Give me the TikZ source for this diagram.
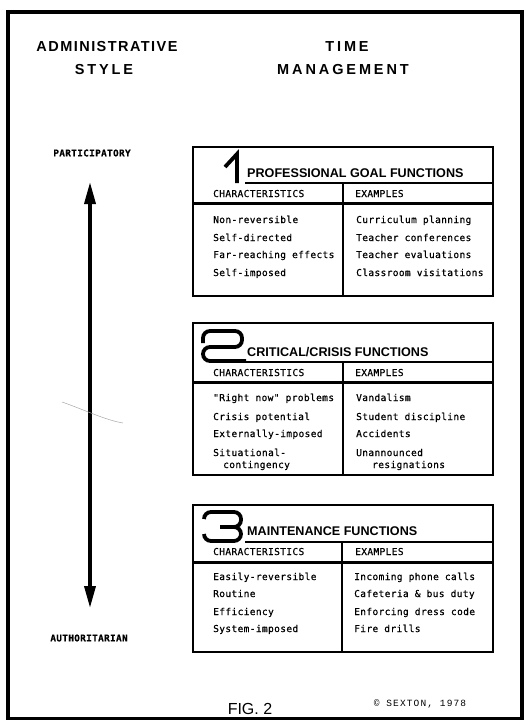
\documentclass[tikz,border=0pt]{standalone}
\usepackage{fontspec}
\setmainfont{Liberation Sans}
\newfontfamily\tw[LetterSpace=4,FakeBold=0.6]{DejaVu Sans Mono}
\newfontfamily\hdn[LetterSpace=10]{Liberation Sans}
\newfontfamily\hdw[LetterSpace=20]{Liberation Sans}
\newfontfamily\cpf[LetterSpace=12]{Liberation Mono}
\usetikzlibrary{arrows.meta}
\tikzset{
  body/.style={anchor=base west, inner sep=0pt, font=\tw\fontsize{9.5}{11}\selectfont},
  headrow/.style={anchor=base west, inner sep=0pt, font=\tw\fontsize{9.5}{11}\selectfont},
  ttl/.style={anchor=base west, inner sep=0pt, font=\bfseries\fontsize{12.6}{14}\selectfont},
  toph/.style={inner sep=0pt, font=\bfseries\fontsize{14.5}{16}\selectfont},
  pole/.style={inner sep=0pt, font=\tw\bfseries\fontsize{9.3}{10}\selectfont},
  boxline/.style={line width=2.6pt},
  midline/.style={line width=1.8pt},
  thickline/.style={line width=3pt},
  num/.style={line width=3.8pt, rounded corners=7pt, line cap=butt},
}
\begin{document}
\begin{tikzpicture}[x=1pt,y=-1pt]
\useasboundingbox (0,0) rectangle (525,720);
% outer frame
\draw[line width=3.2pt] (8,12) rectangle (522,719);

% column headings
\node[toph, font=\hdn\bfseries\fontsize{14.5}{16}\selectfont] (adm) at (107,47) {ADMINISTRATIVE};
\node[toph, font=\hdw\bfseries\fontsize{14.5}{16}\selectfont] (sty) at (104,70) {STYLE};
\node[toph, font=\hdw\bfseries\fontsize{14.5}{16}\selectfont] (tim) at (347,47) {TIME};
\node[toph, font=\hdw\bfseries\fontsize{14.5}{16}\selectfont] (man) at (343,70) {MANAGEMENT};

% scale
\node[pole] (part) at (92,153) {PARTICIPATORY};
\node[pole] (auth) at (89,638) {AUTHORITARIAN};
\coordinate (atop) at (90,182);
\coordinate (abot) at (90,608);
\draw[line width=3.4pt, {Triangle[length=22pt,width=11pt]}-{Triangle[length=22pt,width=11pt]}] (atop) -- (abot);
\draw[black!35, line width=0.5pt] (62,402) .. controls (85,410) and (105,420) .. (123,423);

% ---------- box 1 ----------
\draw[boxline] (193,147) rectangle (493,296);
\draw[midline] (245,183) -- (493,183);
\draw[thickline] (193,203) -- (493,203);
\draw[midline] (343,183) -- (343,296);
\draw[num, rounded corners=0pt, line join=miter] (225,167) -- (237,154) -- (237,183);
\node[ttl] (t1) at (247,177) {PROFESSIONAL GOAL FUNCTIONS};
\node[headrow] (c1) at (213,197) {CHARACTERISTICS};
\node[headrow] (e1) at (355,197) {EXAMPLES};
\node[body] (c1a) at (213,223) {Non-reversible};
\node[body] (c1b) at (213,241) {Self-directed};
\node[body] (c1c) at (213,258) {Far-reaching effects};
\node[body] (c1d) at (213,276) {Self-imposed};
\node[body] (e1a) at (356,223) {Curriculum planning};
\node[body] (e1b) at (356,241) {Teacher conferences};
\node[body] (e1c) at (356,258) {Teacher evaluations};
\node[body] (e1d) at (356,276) {Classroom visitations};

% ---------- box 2 ----------
\draw[boxline] (193,323) rectangle (493,475);
\draw[midline] (245,362) -- (493,362);
\draw[thickline] (193,382) -- (493,382);
\draw[midline] (343,362) -- (343,475);
\draw[num] (203,343) |- (242,331) |- (203,347) |- (246,361);
\node[ttl] (t2) at (247,356) {CRITICAL/CRISIS FUNCTIONS};
\node[headrow] (c2) at (213,376) {CHARACTERISTICS};
\node[headrow] (e2) at (355,376) {EXAMPLES};
\node[body] (c2a) at (213,401) {"Right now" problems};
\node[body] (c2b) at (213,420) {Crisis potential};
\node[body] (c2c) at (213,437) {Externally-imposed};
\node[body] (c2d) at (213,456) {Situational-};
\node[body] (c2e) at (223,468) {contingency};
\node[body] (e2a) at (356,401) {Vandalism};
\node[body] (e2b) at (356,420) {Student discipline};
\node[body] (e2c) at (356,437) {Accidents};
\node[body] (e2d) at (356,456) {Unannounced};
\node[body] (e2e) at (372,468) {resignations};

% ---------- box 3 ----------
\draw[boxline] (193,505) rectangle (493,652);
\draw[midline] (245,542) -- (493,542);
\draw[thickline] (193,562) -- (493,562);
\draw[midline] (342,542) -- (342,652);
\draw[num] (204,519) |- (241,512) |- (220,527);
\draw[num] (220,527) -| (241,541) -| (204,534);
\node[ttl] (t3) at (247,535) {MAINTENANCE FUNCTIONS};
\node[headrow] (c3) at (213,555) {CHARACTERISTICS};
\node[headrow] (e3) at (355,555) {EXAMPLES};
\node[body] (c3a) at (213,580) {Easily-reversible};
\node[body] (c3b) at (213,597) {Routine};
\node[body] (c3c) at (213,615) {Efficiency};
\node[body] (c3d) at (213,632) {System-imposed};
\node[body] (e3a) at (354,580) {Incoming phone calls};
\node[body] (e3b) at (354,597) {Cafeteria \& bus duty};
\node[body] (e3c) at (354,615) {Enforcing dress code};
\node[body] (e3d) at (354,632) {Fire drills};

% footer
\node[inner sep=0pt, font=\fontsize{16}{18}\selectfont] (fig) at (250,709) {FIG. 2};
\node[inner sep=0pt, font=\cpf\fontsize{9.5}{11}\selectfont] (copy) at (420,704) {© SEXTON, 1978};
\end{tikzpicture}
\end{document}
